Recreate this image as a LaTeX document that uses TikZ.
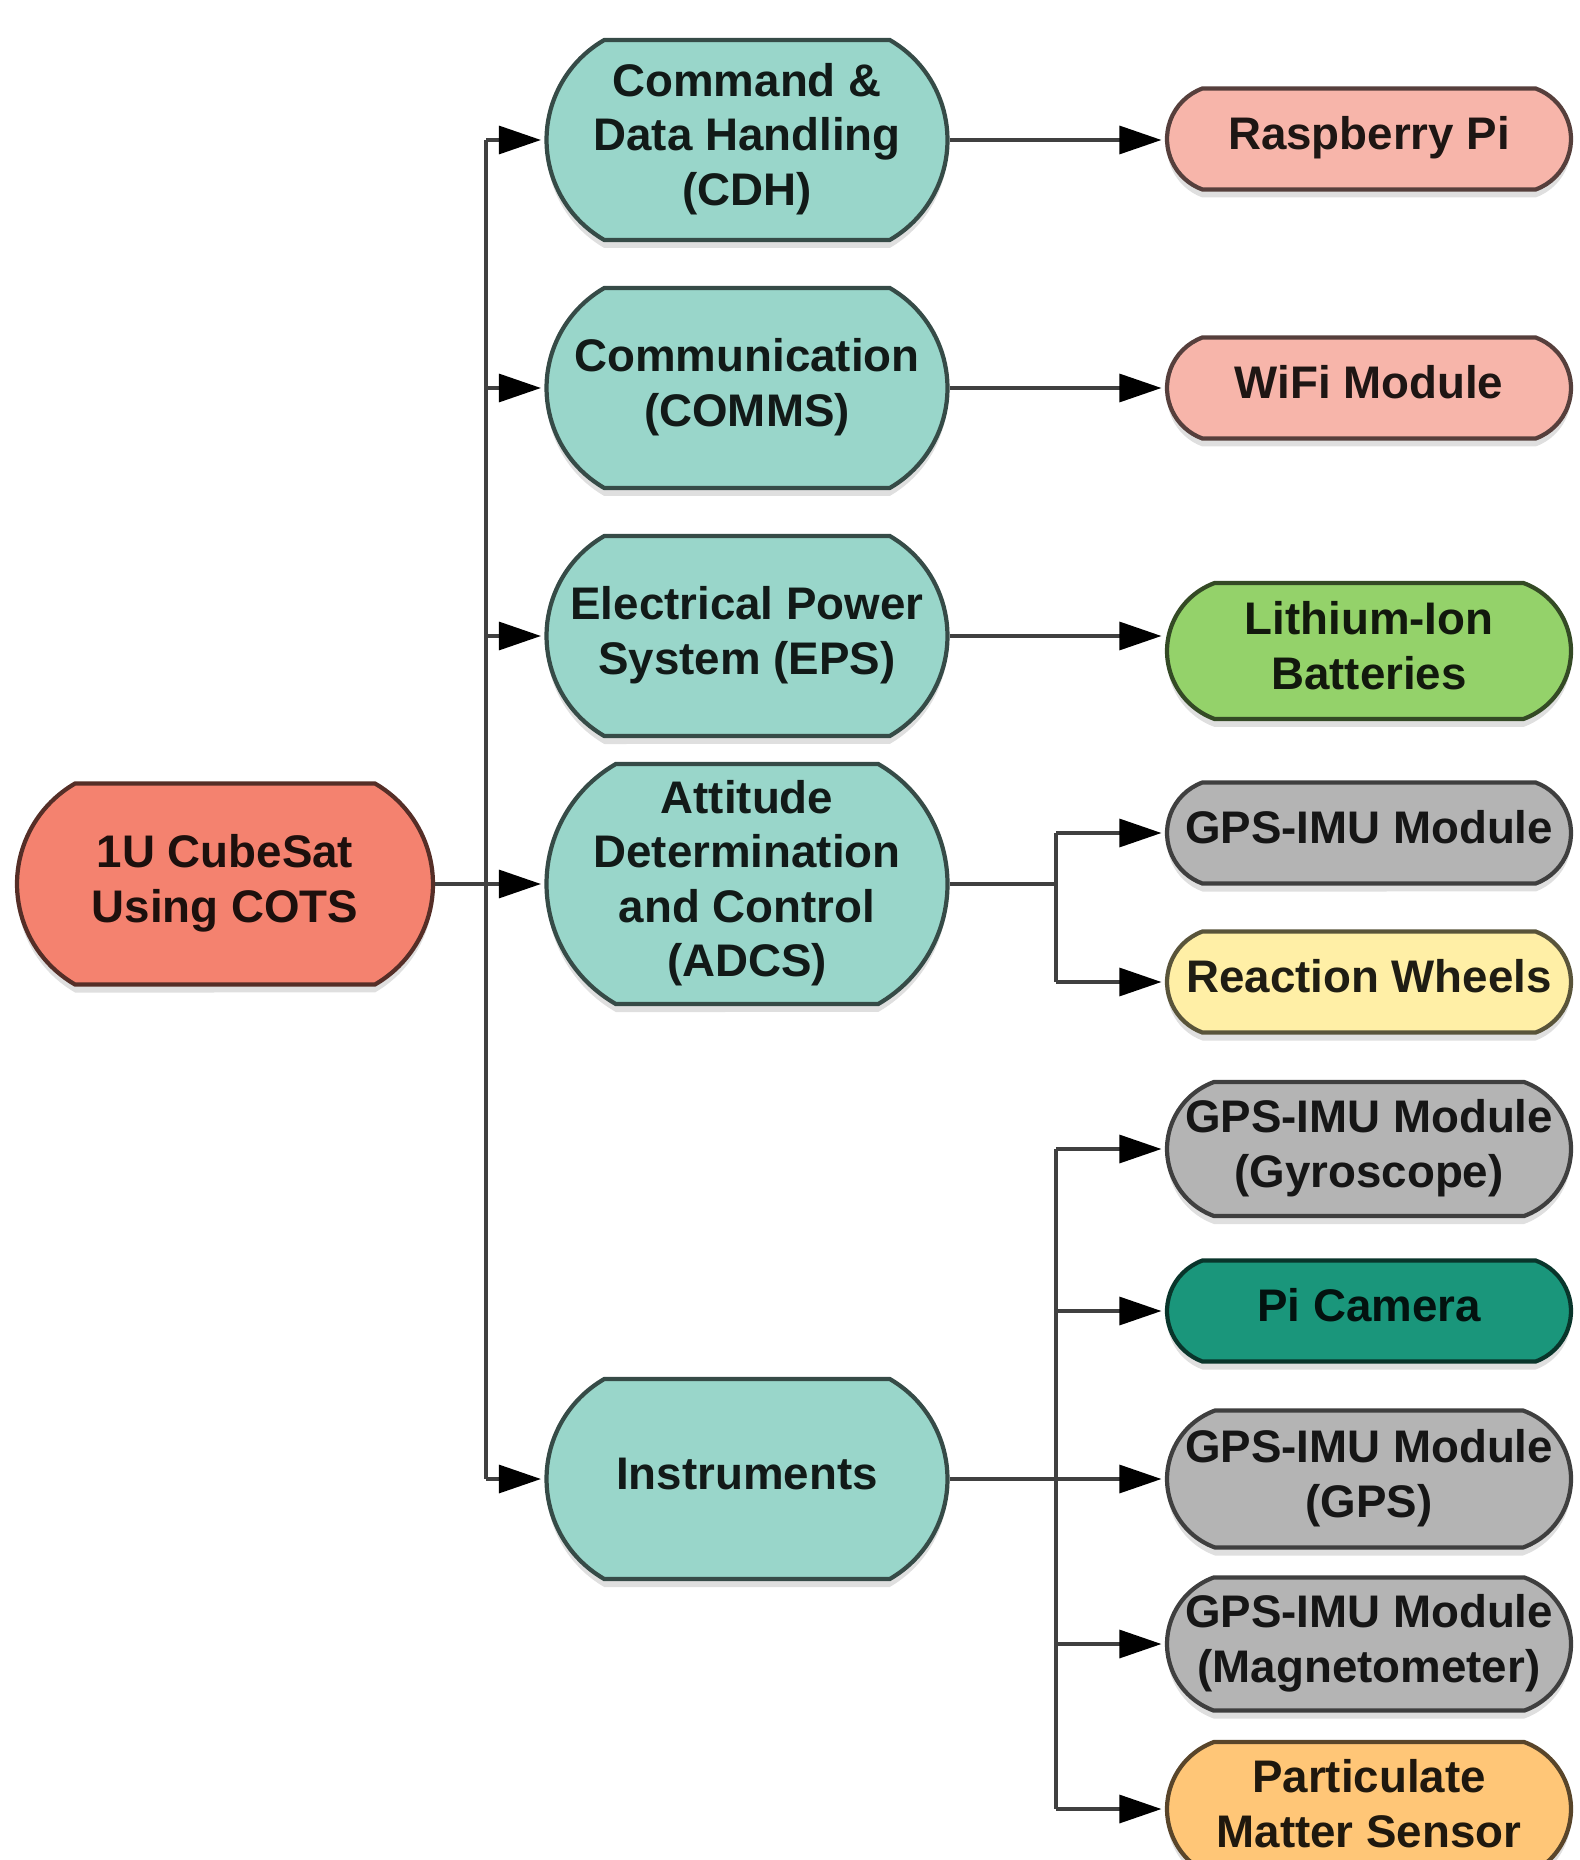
\documentclass[tikz,border=0pt]{standalone}
\usepackage{fontspec}
\setmainfont{Liberation Sans}
\usetikzlibrary{shapes.misc, arrows.meta, shadows}
\definecolor{rootred}{HTML}{F4826F}
\definecolor{teal1}{HTML}{99D6CA}
\definecolor{pink1}{HTML}{F7B5AA}
\definecolor{green1}{HTML}{94D26A}
\definecolor{gray1}{HTML}{B4B4B4}
\definecolor{yellow1}{HTML}{FFEFA6}
\definecolor{teal2}{HTML}{1A967B}
\definecolor{orange1}{HTML}{FFC677}
% text centred over the node, allowed to run into the rounded ends
\newcommand{\lbl}[1]{\makebox[0pt]{\begin{tabular}{@{}c@{}}#1\end{tabular}}}

\begin{document}
\begin{tikzpicture}[
    blk/.style={rounded rectangle, rounded rectangle arc length=120, draw=#1!35!black,
                fill=#1, text=#1!12!black, line width=1.2pt, inner sep=2pt,
                font=\bfseries\fontsize{13}{15.5}\selectfont,
                drop shadow={shadow xshift=0pt, shadow yshift=-0.8mm, opacity=0.25}},
    sys/.style={blk=#1, minimum width=4.15cm, minimum height=2.0cm},
    part/.style={blk=#1, rounded rectangle arc length=140, minimum width=4.18cm, minimum height=1.01cm},
    line/.style={draw=black!75, line width=0.9pt},
    arr/.style={line, -{Triangle[length=0.42cm, width=0.28cm, black]}, shorten >=1pt}
]
    \useasboundingbox (0,0) rectangle (15.8,-18.6);

    % root
    \node[sys=rootred, minimum width=4.3cm, minimum height=2.01cm] (root) at (2.25,-8.84) {\lbl{1U CubeSat\\Using COTS}};

    % subsystems
    \node[sys=teal1] (cdh)   at (7.47,-1.40) {\lbl{Command \&\\Data Handling\\(CDH)}};
    \node[sys=teal1] (comms) at (7.47,-3.88) {\lbl{Communication\\(COMMS)}};
    \node[sys=teal1] (eps)   at (7.47,-6.36) {\lbl{Electrical Power\\System (EPS)}};
    \node[sys=teal1, minimum height=2.4cm] (adcs) at (7.47,-8.84) {\lbl{Attitude\\Determination\\and Control\\(ADCS)}};
    \node[sys=teal1] (inst)  at (7.47,-14.79) {\lbl{Instruments}};

    % components
    \node[part=pink1] (rpi)   at (13.69,-1.39) {\lbl{Raspberry Pi}};
    \node[part=pink1] (wifi)  at (13.69,-3.88) {\lbl{WiFi Module}};
    \node[part=green1, minimum height=1.36cm] (liion) at (13.69,-6.51) {\lbl{Lithium-Ion\\Batteries}};
    \node[part=gray1] (imu)   at (13.69,-8.33) {\lbl{GPS-IMU Module}};
    \node[part=yellow1] (rw)  at (13.69,-9.82) {\lbl{Reaction Wheels}};
    \node[part=gray1, minimum height=1.34cm] (gyro) at (13.69,-11.49) {\lbl{GPS-IMU Module\\(Gyroscope)}};
    \node[part=teal2] (cam)   at (13.69,-13.11) {\lbl{Pi Camera}};
    \node[part=gray1, minimum height=1.37cm] (gps) at (13.69,-14.79) {\lbl{GPS-IMU Module\\(GPS)}};
    \node[part=gray1, minimum height=1.33cm] (mag) at (13.69,-16.44) {\lbl{GPS-IMU Module\\(Magnetometer)}};
    \node[part=orange1, minimum height=1.34cm] (pm) at (13.69,-18.09) {\lbl{Particulate\\Matter Sensor}};

    % trunk from root
    \coordinate (tk) at (4.86,0);
    \draw[line] (root.east) -- (root.east -| tk);
    \draw[line] (cdh.west -| tk) -- (inst.west -| tk);
    \foreach \n in {cdh,comms,eps,adcs,inst}
        \draw[arr] (\n.west -| tk) -- (\n.west);

    % single links
    \draw[arr] (cdh.east) -- (cdh.east -| rpi.west);
    \draw[arr] (comms.east) -- (wifi.west);
    \draw[arr] (eps.east) -- (eps.east -| liion.west);

    % branches
    \coordinate (br) at (10.56,0);
    \draw[line] (adcs.east) -- (adcs.east -| br);
    \draw[line] (imu.west -| br) -- (rw.west -| br);
    \foreach \n in {imu,rw}
        \draw[arr] (\n.west -| br) -- (\n.west);
    \draw[line] (inst.east) -- (inst.east -| br);
    \draw[line] (gyro.west -| br) -- (pm.west -| br);
    \foreach \n in {gyro,cam,gps,mag,pm}
        \draw[arr] (\n.west -| br) -- (\n.west);
\end{tikzpicture}
\end{document}
